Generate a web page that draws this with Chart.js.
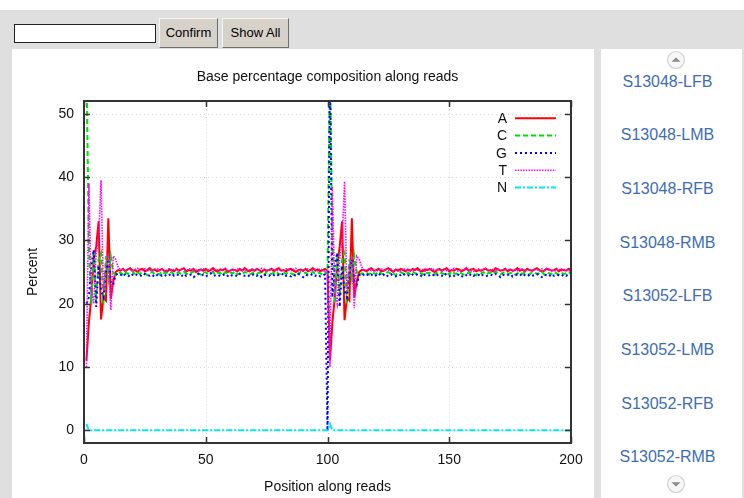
<!DOCTYPE html>
<html>
<head>
<meta charset="utf-8">
<script src="https://cdn.jsdelivr.net/npm/chart.js@4.4.1/dist/chart.umd.min.js"></script>
<style>
  html, body { margin: 0; padding: 0; }
  body {
    width: 744px; height: 498px; position: relative; overflow: hidden;
    background: #dfdfdf; font-family: "Liberation Sans", Arial, sans-serif;
  }
  #topStrip { position: absolute; left: 0; top: 0; width: 744px; height: 10px; background: #fff; }
  #keyword {
    position: absolute; left: 14px; top: 24px; width: 140px; height: 17px;
    border: 1px solid #222; background: #fff; padding: 0; margin: 0; outline: none;
  }
  .btn {
    position: absolute; top: 18px; height: 30px; box-sizing: border-box;
    background: #d6d2ca; border: 1px solid; border-color: #f6f5f2 #6f6d69 #6f6d69 #f6f5f2;
    font-size: 13px; line-height: 28px; text-align: center; color: #000;
  }
  #panel { position: absolute; left: 12px; top: 49px; width: 582px; height: 449px; background: #fff; }
  #sidebar { position: absolute; left: 601px; top: 49px; width: 141px; height: 449px; background: #fff; }
  .sample {
    position: absolute; left: 0; width: 133px; text-align: center;
    font-size: 16px; line-height: 20px; color: #3d6db3; text-decoration: none;
  }
  .arrow { position: absolute; left: 65px; width: 20px; height: 20px; }
</style>
</head>
<body>
<div id="topStrip"></div>
<input id="keyword" type="text">
<div class="btn" style="left:159px; width:59px;">Confirm</div>
<div class="btn" style="left:222px; width:67px;">Show All</div>

<div id="panel"><canvas id="baseChart"></canvas></div>

<div id="sidebar">
  <svg class="arrow" style="top:1px" viewBox="0 0 20 20">
    <circle cx="10" cy="10" r="8.5" fill="#f7f7f7" stroke="#d0d0d0" stroke-width="1.2"/>
    <path d="M5.5 11.8 L14.5 11.8 L10 7.6 Z" fill="#8a8a8a"/>
  </svg>
  <div id="sampleList"></div>
  <svg class="arrow" style="top:425px" viewBox="0 0 20 20">
    <circle cx="10" cy="10" r="8.5" fill="#f7f7f7" stroke="#d0d0d0" stroke-width="1.2"/>
    <path d="M5.5 8.2 L14.5 8.2 L10 12.4 Z" fill="#8a8a8a"/>
  </svg>
</div>

<script>
// 샘플 목록
const sampleNames = ['S13048-LFB', 'S13048-LMB', 'S13048-RFB', 'S13048-RMB',
                     'S13052-LFB', 'S13052-LMB', 'S13052-RFB', 'S13052-RMB'];

// 축 눈금
const xTicks = [0, 50, 100, 150, 200];
const yTicks = [0, 10, 20, 30, 40, 50];

// 범례 / 시리즈 이름
const baseNames = ['A', 'C', 'G', 'T', 'N'];

// A (read 1, read 2)
const readA1 = [
  11, 17, 21, 27, 29, 33, 17.5, 21, 20.5, 33.5, 20.8, 23.5, 25, 25.3,
  25.2, 25.5, 25.1, 25.4, 25.6, 25.2, 25.3, 25.0, 25.4, 25.5,
  25.1, 25.3, 25.6, 25.2, 25.4, 25.1, 25.3, 25.5, 25.2, 25.0,
  25.4, 25.3, 25.1, 25.5, 25.2, 25.4, 25.6, 25.1, 25.3, 25.2,
  25.5, 25.0, 25.3, 25.4, 25.2, 25.5, 25.1, 25.3, 25.6, 25.2,
  25.1, 25.4, 25.3, 25.5, 25.0, 25.2, 25.4, 25.3, 25.1, 25.5,
  25.2, 25.6, 25.3, 25.1, 25.4, 25.2, 25.5, 25.3, 25.0, 25.4,
  25.2, 25.3, 25.5, 25.1, 25.4, 25.6, 25.2, 25.3, 25.1, 25.4,
  25.5, 25.2, 25.0, 25.3, 25.4, 25.2, 25.5, 25.1, 25.3, 25.6,
  25.2, 25.4, 25.1, 25.3, 25.5, 25.2
];
const readA2 = [
  11, 17, 21, 26, 29, 33, 17.4, 21, 20.5, 33.5, 21, 23.5, 25, 25.3,
  25.3, 25.1, 25.4, 25.6, 25.2, 25.3, 25.5, 25.1, 25.2, 25.4,
  25.6, 25.3, 25.0, 25.4, 25.2, 25.5, 25.3, 25.1, 25.4, 25.2,
  25.5, 25.3, 25.6, 25.2, 25.1, 25.4, 25.3, 25.5, 25.2, 25.0,
  25.3, 25.5, 25.2, 25.4, 25.6, 25.1, 25.3, 25.2, 25.5, 25.4,
  25.1, 25.3, 25.6, 25.2, 25.4, 25.5, 25.1, 25.3, 25.2, 25.4,
  25.5, 25.2, 25.3, 25.1, 25.6, 25.4, 25.2, 25.3, 25.5, 25.1,
  25.4, 25.2, 25.3, 25.6, 25.2, 25.4, 25.1, 25.5, 25.3, 25.2,
  25.4, 25.6, 25.3, 25.1, 25.2, 25.5, 25.4, 25.2, 25.3, 25.5,
  25.1, 25.4, 25.3, 25.2, 25.5, 25.4
];

// C
const readC1 = [
  58, 29, 20, 28.5, 20.5, 27, 28, 20, 27.5, 24, 27.5, 25, 24.5, 24.8,
  24.9, 24.6, 25.0, 24.7, 24.8, 25.1, 24.6, 24.9, 24.7, 25.0,
  24.8, 24.5, 24.9, 25.0, 24.7, 24.8, 24.6, 25.1, 24.8, 24.9,
  24.7, 25.0, 24.6, 24.8, 24.9, 24.7, 25.0, 24.8, 24.6, 24.9,
  25.1, 24.7, 24.8, 24.6, 25.0, 24.9, 24.7, 24.8, 25.0, 24.6,
  24.9, 24.8, 24.5, 25.0, 24.7, 24.9, 24.8, 25.1, 24.6, 24.8,
  24.7, 25.0, 24.9, 24.6, 24.8, 25.0, 24.7, 24.9, 24.8, 24.6,
  25.0, 24.8, 24.7, 24.9, 25.1, 24.6, 24.8, 24.9, 24.7, 25.0,
  24.8, 24.6, 24.9, 24.7, 25.0, 24.8, 24.9, 24.6, 24.8, 25.0,
  24.7, 24.9, 24.8, 24.6, 25.0, 24.8
];
const readC2 = [
  58, 30, 20, 28, 21, 27, 28, 20, 27, 24, 27.5, 25, 24.5, 24.8,
  24.7, 24.9, 24.6, 25.0, 24.8, 24.7, 25.1, 24.8, 24.6, 24.9,
  25.0, 24.7, 24.8, 24.5, 24.9, 25.0, 24.8, 24.6, 24.9, 24.7,
  25.1, 24.8, 24.7, 24.9, 24.6, 25.0, 24.8, 24.9, 24.7, 24.6,
  24.9, 25.0, 24.8, 24.7, 24.9, 24.6, 25.1, 24.8, 24.7, 25.0,
  24.8, 24.6, 24.9, 24.8, 25.0, 24.7, 24.5, 24.9, 24.8, 25.0,
  24.6, 24.8, 24.9, 24.7, 25.1, 24.8, 24.6, 24.9, 25.0, 24.7,
  24.8, 24.9, 24.6, 24.8, 25.0, 24.7, 24.9, 24.8, 24.6, 25.0,
  24.9, 24.7, 24.8, 25.1, 24.6, 24.9, 24.8, 24.7, 25.0, 24.8,
  24.6, 24.9, 24.7, 24.8, 25.0, 24.7
];

// G
const readG1 = [
  20, 21, 26, 28.5, 19.5, 26, 22, 21, 25, 27, 23.5, 23, 24.5, 24.8,
  24.6, 24.3, 24.7, 24.5, 24.2, 24.6, 24.8, 24.4, 24.5, 24.3,
  24.7, 24.5, 24.4, 24.6, 24.2, 24.5, 24.7, 24.4, 24.6, 24.3,
  24.5, 24.8, 24.4, 24.6, 24.5, 24.3, 24.7, 24.4, 24.5, 24.6,
  24.2, 24.5, 24.7, 24.4, 24.6, 24.3, 24.5, 24.8, 24.4, 24.5,
  24.6, 24.3, 24.5, 24.7, 24.4, 24.2, 24.6, 24.5, 24.3, 24.7,
  24.5, 24.4, 24.6, 24.3, 24.5, 24.7, 24.4, 24.6, 24.2, 24.5,
  24.6, 24.4, 24.7, 24.5, 24.3, 24.6, 24.5, 24.8, 24.4, 24.5,
  24.3, 24.6, 24.4, 24.7, 24.5, 24.2, 24.6, 24.4, 24.5, 24.7,
  24.4, 24.6, 24.3, 24.5, 24.6, 0
];
const readG2 = [
  58, 21, 26, 28, 19.5, 26, 22, 21, 25, 27, 23.5, 23, 24.5, 24.8,
  24.5, 24.7, 24.4, 24.6, 24.3, 24.5, 24.8, 24.4, 24.6, 24.2,
  24.5, 24.7, 24.4, 24.3, 24.6, 24.5, 24.8, 24.4, 24.5, 24.3,
  24.6, 24.4, 24.7, 24.5, 24.2, 24.6, 24.4, 24.5, 24.7, 24.3,
  24.5, 24.6, 24.4, 24.8, 24.5, 24.3, 24.6, 24.4, 24.7, 24.5,
  24.2, 24.6, 24.5, 24.3, 24.7, 24.4, 24.6, 24.5, 24.8, 24.4,
  24.3, 24.5, 24.6, 24.4, 24.7, 24.5, 24.2, 24.6, 24.4, 24.5,
  24.7, 24.3, 24.5, 24.6, 24.4, 24.8, 24.5, 24.3, 24.6, 24.4,
  24.5, 24.7, 24.4, 24.2, 24.6, 24.5, 24.3, 24.7, 24.4, 24.6,
  24.5, 24.3, 24.6, 24.4, 24.7, 24.5
];

// T
const readT1 = [
  10, 39, 22, 20, 28, 30, 39.5, 22, 26, 28, 19, 27.5, 27, 25.8, 25.3,
  25.4, 25.2, 25.5, 25.3, 25.1, 25.4, 25.6, 25.2, 25.3, 25.5,
  25.1, 25.4, 25.2, 25.3, 25.6, 25.2, 25.4, 25.1, 25.3, 25.5,
  25.2, 25.4, 25.3, 25.1, 25.5, 25.3, 25.2, 25.4, 25.6, 25.2,
  25.3, 25.1, 25.4, 25.5, 25.2, 25.3, 25.4, 25.1, 25.5, 25.3,
  25.2, 25.4, 25.6, 25.3, 25.1, 25.4, 25.2, 25.5, 25.3, 25.2,
  25.4, 25.1, 25.3, 25.5, 25.2, 25.4, 25.3, 25.6, 25.2, 25.1,
  25.4, 25.3, 25.5, 25.2, 25.3, 25.4, 25.1, 25.5, 25.3, 25.2,
  25.4, 25.6, 25.2, 25.3, 25.1, 25.4, 25.5, 25.2, 25.3, 25.4,
  25.2, 25.5, 25.3, 25.1, 25.4
];
const readT2 = [
  10, 38.5, 22, 20, 27, 30, 39.3, 22, 26, 27, 19.3, 27.5, 27, 25.8, 25.3,
  25.3, 25.5, 25.2, 25.4, 25.1, 25.3, 25.6, 25.2, 25.4, 25.3,
  25.5, 25.1, 25.3, 25.4, 25.2, 25.6, 25.3, 25.1, 25.4, 25.2,
  25.5, 25.3, 25.2, 25.4, 25.1, 25.5, 25.3, 25.6, 25.2, 25.4,
  25.3, 25.1, 25.5, 25.2, 25.4, 25.3, 25.6, 25.2, 25.1, 25.4,
  25.3, 25.5, 25.2, 25.4, 25.1, 25.3, 25.5, 25.2, 25.4, 25.6,
  25.3, 25.2, 25.4, 25.1, 25.5, 25.3, 25.2, 25.4, 25.3, 25.5,
  25.1, 25.4, 25.2, 25.6, 25.3, 25.4, 25.2, 25.5, 25.1, 25.3,
  25.4, 25.2, 25.5, 25.3, 25.6, 25.2, 25.4, 25.1, 25.3, 25.5,
  25.2, 25.4, 25.3, 25.1, 25.4
];

// N
const readN1 = [
  1, 0, 0, 0, 0, 0, 0, 0, 0, 0,
  0, 0, 0, 0, 0, 0, 0, 0, 0, 0,
  0, 0, 0, 0, 0, 0, 0, 0, 0, 0,
  0, 0, 0, 0, 0, 0, 0, 0, 0, 0,
  0, 0, 0, 0, 0, 0, 0, 0, 0, 0,
  0, 0, 0, 0, 0, 0, 0, 0, 0, 0,
  0, 0, 0, 0, 0, 0, 0, 0, 0, 0,
  0, 0, 0, 0, 0, 0, 0, 0, 0, 0,
  0, 0, 0, 0, 0, 0, 0, 0, 0, 0,
  0, 0, 0, 0, 0, 0, 0, 0, 0, 0
];
const readN2 = [
  1, 0, 0, 0, 0, 0, 0, 0, 0, 0,
  0, 0, 0, 0, 0, 0, 0, 0, 0, 0,
  0, 0, 0, 0, 0, 0, 0, 0, 0, 0,
  0, 0, 0, 0, 0, 0, 0, 0, 0, 0,
  0, 0, 0, 0, 0, 0, 0, 0, 0, 0,
  0, 0, 0, 0, 0, 0, 0, 0, 0, 0,
  0, 0, 0, 0, 0, 0, 0, 0, 0, 0,
  0, 0, 0, 0, 0, 0, 0, 0, 0, 0,
  0, 0, 0, 0, 0, 0, 0, 0, 0, 0,
  0, 0, 0, 0, 0, 0, 0, 0, 0, 0
];

const seriesValues = [
  readA1.concat(readA2),
  readC1.concat(readC2),
  readG1.concat(readG2),
  readT1.concat(readT2),
  readN1.concat(readN2)
];

// 스타일 (gnuplot 기본 선 종류)
const lineColors = ['#ff0000', '#00e000', '#0000ff', '#ff00ff', '#00e8e8'];
const lineDashes = [[], [5, 3], [2, 3], [1.5, 1.2], [6, 2, 2, 2]];
const lineWidths = [2, 2, 2, 1.6, 2];

// 사이드바 샘플 링크
const list = document.getElementById('sampleList');
sampleNames.forEach((name, i) => {
    const a = document.createElement('a');
    a.className = 'sample';
    a.href = '#';
    a.textContent = name;
    a.style.top = (22.5 + i * 53.7) + 'px';
    list.appendChild(a);
});

const FONT = '"Liberation Sans", Arial, sans-serif';
Chart.defaults.font.family = FONT;
Chart.defaults.color = '#111';

// 그리드, 테두리, 눈금, 범례, 제목 (gnuplot 스타일)
const gnuplotFrame = {
    id: 'gnuplotFrame',
    beforeDatasetsDraw(chart) {
        const { ctx, chartArea: a, scales: { x, y } } = chart;
        ctx.save();
        ctx.strokeStyle = '#d6d6d6';
        ctx.lineWidth = 1;
        ctx.setLineDash([1, 3]);
        yTicks.forEach(v => {
            const py = Math.round(y.getPixelForValue(v)) + 0.5;
            ctx.beginPath(); ctx.moveTo(a.left, py); ctx.lineTo(a.right, py); ctx.stroke();
        });
        xTicks.forEach(v => {
            if (v === xTicks[0] || v === xTicks[xTicks.length - 1]) return;
            const px = Math.round(x.getPixelForValue(v)) + 0.5;
            ctx.beginPath(); ctx.moveTo(px, a.top); ctx.lineTo(px, a.bottom); ctx.stroke();
        });
        ctx.restore();
    },
    afterDatasetsDraw(chart) {
        const { ctx, chartArea: a, scales: { x, y } } = chart;
        ctx.save();
        ctx.setLineDash([]);
        ctx.strokeStyle = '#333';
        ctx.lineWidth = 1.5;
        const tick = 6;
        yTicks.forEach(v => {
            const py = Math.round(y.getPixelForValue(v)) + 0.5;
            ctx.beginPath();
            ctx.moveTo(a.left, py); ctx.lineTo(a.left + tick, py);
            ctx.moveTo(a.right, py); ctx.lineTo(a.right - tick, py);
            ctx.stroke();
        });
        xTicks.forEach(v => {
            const px = Math.round(x.getPixelForValue(v)) + 0.5;
            ctx.beginPath();
            ctx.moveTo(px, a.bottom); ctx.lineTo(px, a.bottom - tick);
            ctx.moveTo(px, a.top); ctx.lineTo(px, a.top + tick);
            ctx.stroke();
        });
        ctx.lineWidth = 2;
        ctx.strokeRect(a.left, a.top, a.right - a.left, a.bottom - a.top);

        // 범례
        ctx.font = '14px ' + FONT;
        ctx.fillStyle = '#111';
        ctx.textAlign = 'right';
        ctx.textBaseline = 'middle';
        baseNames.forEach((name, i) => {
            const ly = a.top + 17.3 * (i + 1);
            ctx.fillText(name, a.right - 64, ly + 1);
            ctx.strokeStyle = lineColors[i];
            ctx.lineWidth = lineWidths[i];
            ctx.setLineDash(lineDashes[i]);
            ctx.beginPath();
            ctx.moveTo(a.right - 56, ly); ctx.lineTo(a.right - 15, ly);
            ctx.stroke();
        });

        // 제목
        ctx.setLineDash([]);
        ctx.textAlign = 'center';
        ctx.fillText('Base percentage composition along reads', (a.left + a.right) / 2, 28);
        ctx.restore();
    }
};

const ctx = document.getElementById('baseChart').getContext('2d');
new Chart(ctx, {
    type: 'line',
    data: {
        datasets: baseNames.map((name, i) => ({
            label: name,
            data: seriesValues[i].map((v, k) => ({ x: k + 1, y: v })),
            borderColor: lineColors[i],
            borderWidth: lineWidths[i],
            borderDash: lineDashes[i],
            pointRadius: 0,
            tension: 0,
            fill: false,
            order: baseNames.length - i
        }))
    },
    options: {
        responsive: true,
        maintainAspectRatio: false,
        animation: false,
        events: [],
        layout: { padding: { left: 0, top: 52, right: 23, bottom: 0 } },
        plugins: {
            legend: { display: false },
            title: { display: false },
            tooltip: { enabled: false }
        },
        scales: {
            x: {
                type: 'linear',
                min: 0,
                max: 200,
                grid: { display: false, drawTicks: false },
                border: { display: false },
                ticks: { stepSize: 50, padding: 9, font: { size: 14 }, maxRotation: 0 },
                title: { display: true, text: 'Position along reads', font: { size: 14 },
                         padding: { top: 0, bottom: 2.6 } },
                afterBuildTicks: scale => { scale.ticks = xTicks.map(v => ({ value: v })); },
                afterFit: scale => { scale.height = 55; }
            },
            y: {
                type: 'linear',
                min: -2,
                max: 52,
                grid: { display: false, drawTicks: false },
                border: { display: false },
                ticks: { padding: 10, font: { size: 14 } },
                title: { display: true, text: 'Percent', font: { size: 14 },
                         padding: { top: 12.6, bottom: 0 } },
                afterBuildTicks: scale => { scale.ticks = yTicks.map(v => ({ value: v })); },
                afterFit: scale => { scale.width = 72; }
            }
        }
    },
    plugins: [gnuplotFrame]
});
</script>
</body>
</html>
